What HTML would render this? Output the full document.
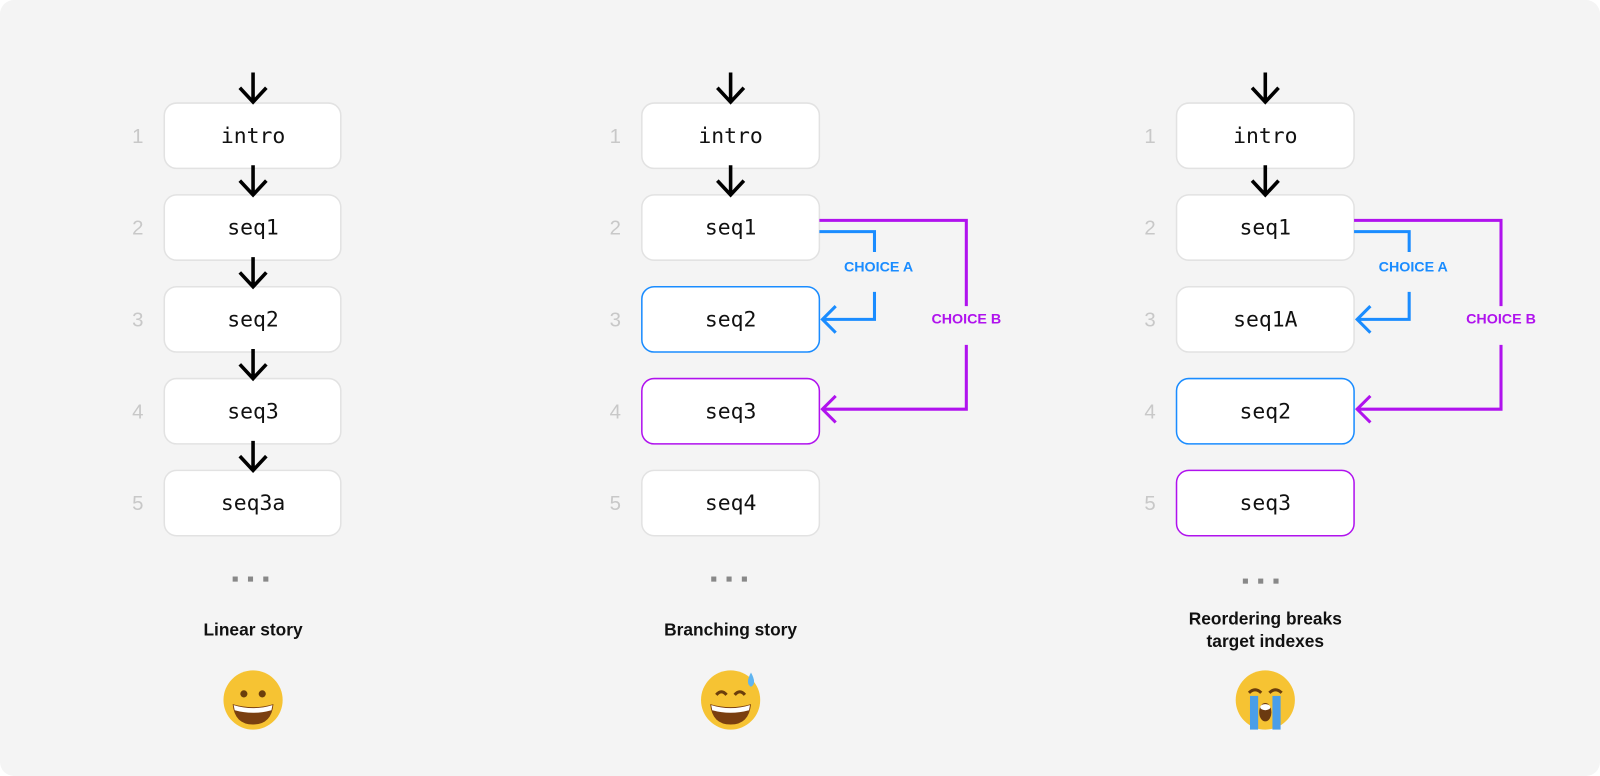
<!DOCTYPE html>
<html><head><meta charset="utf-8"><style>
html,body{margin:0;padding:0;background:#fff;overflow:hidden}
svg{display:block}
.box{fill:#fff;stroke:#e2e2e2;stroke-width:1.5}
.t{font-family:"DejaVu Sans Mono","Liberation Mono",monospace;font-size:21px;fill:#111;text-anchor:middle}
.n{font-family:"Liberation Sans",sans-serif;font-size:20px;fill:#c8c8c8;text-anchor:middle}
.lb{font-family:"Liberation Sans",sans-serif;font-size:17px;font-weight:bold;fill:#111;text-anchor:middle}
.ch{font-family:"Liberation Sans",sans-serif;font-size:14px;font-weight:bold;text-anchor:middle}
.ar{stroke:#000;stroke-width:3.5;fill:none}
.dots{fill:#888}
</style></head><body>
<svg width="1600" height="776" viewBox="0 0 1600 776" xmlns="http://www.w3.org/2000/svg">
<defs>
<g id="arr"><path class="ar" d="M0 0 V28 M-13 15 L0 29 L13 15"/></g>
</defs>
<rect x="0" y="0" width="1600" height="776" rx="14" fill="#f4f4f4"/>
<g transform="scale(1.0204)">
<!-- Column 1 -->
<g>
<rect class="box" x="161" y="101" width="173" height="64" rx="12"/>
<rect class="box" x="161" y="191" width="173" height="64" rx="12"/>
<rect class="box" x="161" y="281" width="173" height="64" rx="12"/>
<rect class="box" x="161" y="371" width="173" height="64" rx="12"/>
<rect class="box" x="161" y="461" width="173" height="64" rx="12"/>
<use href="#arr" x="248" y="71"/>
<use href="#arr" x="248" y="162"/>
<use href="#arr" x="248" y="252"/>
<use href="#arr" x="248" y="342"/>
<use href="#arr" x="248" y="432"/>
<text class="t" x="248" y="140">intro</text>
<text class="t" x="248" y="230">seq1</text>
<text class="t" x="248" y="320">seq2</text>
<text class="t" x="248" y="410">seq3</text>
<text class="t" x="248" y="500">seq3a</text>
<text class="n" x="135" y="140">1</text><text class="n" x="135" y="230">2</text><text class="n" x="135" y="320">3</text><text class="n" x="135" y="410">4</text><text class="n" x="135" y="500">5</text>
<rect class="dots" x="228" y="565" width="5" height="5"/><rect class="dots" x="243" y="565" width="5" height="5"/><rect class="dots" x="258" y="565" width="5" height="5"/>
<text class="lb" x="248" y="623">Linear story</text>
<g transform="translate(248,686)"><circle r="29" fill="#f6c333"/><circle cx="-9" cy="-6" r="3.5" fill="#6b3e0c"/><circle cx="9" cy="-6" r="3.5" fill="#6b3e0c"/><path d="M-20 4 Q0 10 20 4 Q18 24 0 24 Q-18 24 -20 4Z" fill="#7a3f10"/><path d="M-19 5 Q0 11 19 5 L18 10 Q0 15 -18 10Z" fill="#fff"/></g>
</g>

<!-- Column 2 -->
<g>
<rect class="box" x="629" y="101" width="174" height="64" rx="12"/>
<rect class="box" x="629" y="191" width="174" height="64" rx="12"/>
<rect x="629" y="281" width="174" height="64" rx="12" fill="#fff" stroke="#1a8cff" stroke-width="1.5"/>
<rect x="629" y="371" width="174" height="64" rx="12" fill="#fff" stroke="#b012ee" stroke-width="1.5"/>
<rect class="box" x="629" y="461" width="174" height="64" rx="12"/>
<use href="#arr" x="716" y="71"/>
<use href="#arr" x="716" y="162"/>
<text class="t" x="716" y="140">intro</text>
<text class="t" x="716" y="230">seq1</text>
<text class="t" x="716" y="320">seq2</text>
<text class="t" x="716" y="410">seq3</text>
<text class="t" x="716" y="500">seq4</text>
<text class="n" x="603" y="140">1</text><text class="n" x="603" y="230">2</text><text class="n" x="603" y="320">3</text><text class="n" x="603" y="410">4</text><text class="n" x="603" y="500">5</text>
<path d="M803 216 H947 V300 M947 338 V401 H806 M819 388 L806 401 L819 414" fill="none" stroke="#b012ee" stroke-width="3"/>
<path d="M803 227 H857 V247 M857 286 V313 H806 M819 300 L806 313 L819 326" fill="none" stroke="#1a8cff" stroke-width="3"/>
<text class="ch" x="861" y="266" fill="#1a8cff">CHOICE A</text>
<text class="ch" x="947" y="317" fill="#b012ee">CHOICE B</text>
<rect class="dots" x="697" y="565" width="5" height="5"/><rect class="dots" x="712" y="565" width="5" height="5"/><rect class="dots" x="727" y="565" width="5" height="5"/>
<text class="lb" x="716" y="623">Branching story</text>
<g transform="translate(716,686)"><circle r="29" fill="#f6c333"/><path d="M-14 -5 Q-9 -11 -4 -5 M4 -5 Q9 -11 14 -5" stroke="#6b3e0c" stroke-width="3" fill="none"/><path d="M-20 4 Q0 10 20 4 Q18 24 0 24 Q-18 24 -20 4Z" fill="#7a3f10"/><path d="M-19 5 Q0 11 19 5 L18 10 Q0 15 -18 10Z" fill="#fff"/><path d="M20 -27 Q14 -16 20 -13 Q26 -16 20 -27Z" fill="#5fb4f0"/></g>
</g>

<!-- Column 3 -->
<g>
<rect class="box" x="1153" y="101" width="174" height="64" rx="12"/>
<rect class="box" x="1153" y="191" width="174" height="64" rx="12"/>
<rect class="box" x="1153" y="281" width="174" height="64" rx="12"/>
<rect x="1153" y="371" width="174" height="64" rx="12" fill="#fff" stroke="#1a8cff" stroke-width="1.5"/>
<rect x="1153" y="461" width="174" height="64" rx="12" fill="#fff" stroke="#b012ee" stroke-width="1.5"/>
<use href="#arr" x="1240" y="71"/>
<use href="#arr" x="1240" y="162"/>
<text class="t" x="1240" y="140">intro</text>
<text class="t" x="1240" y="230">seq1</text>
<text class="t" x="1240" y="320">seq1A</text>
<text class="t" x="1240" y="410">seq2</text>
<text class="t" x="1240" y="500">seq3</text>
<text class="n" x="1127" y="140">1</text><text class="n" x="1127" y="230">2</text><text class="n" x="1127" y="320">3</text><text class="n" x="1127" y="410">4</text><text class="n" x="1127" y="500">5</text>
<path d="M1327 216 H1471 V300 M1471 338 V401 H1330 M1343 388 L1330 401 L1343 414" fill="none" stroke="#b012ee" stroke-width="3"/>
<path d="M1327 227 H1381 V247 M1381 286 V313 H1330 M1343 300 L1330 313 L1343 326" fill="none" stroke="#1a8cff" stroke-width="3"/>
<text class="ch" x="1385" y="266" fill="#1a8cff">CHOICE A</text>
<text class="ch" x="1471" y="317" fill="#b012ee">CHOICE B</text>
<rect class="dots" x="1248" y="567" width="5" height="5"/><rect class="dots" x="1233" y="567" width="5" height="5"/><rect class="dots" x="1218" y="567" width="5" height="5"/>
<text class="lb" x="1240" y="612">Reordering breaks</text>
<text class="lb" x="1240" y="634">target indexes</text>
<g transform="translate(1240,686)"><circle r="29" fill="#f6c333"/><path d="M-16 -7 Q-10 -13 -4 -7 M4 -7 Q10 -13 16 -7" stroke="#6b3e0c" stroke-width="3" fill="none"/><rect x="-15" y="-4" width="8" height="33" fill="#4a9ee8"/><rect x="7" y="-4" width="8" height="33" fill="#4a9ee8"/><ellipse cx="0" cy="12" rx="6" ry="9" fill="#6b3a10"/><ellipse cx="0" cy="7" rx="5" ry="3" fill="#fff"/></g>
</g>
</g>
</svg>
</body></html>
